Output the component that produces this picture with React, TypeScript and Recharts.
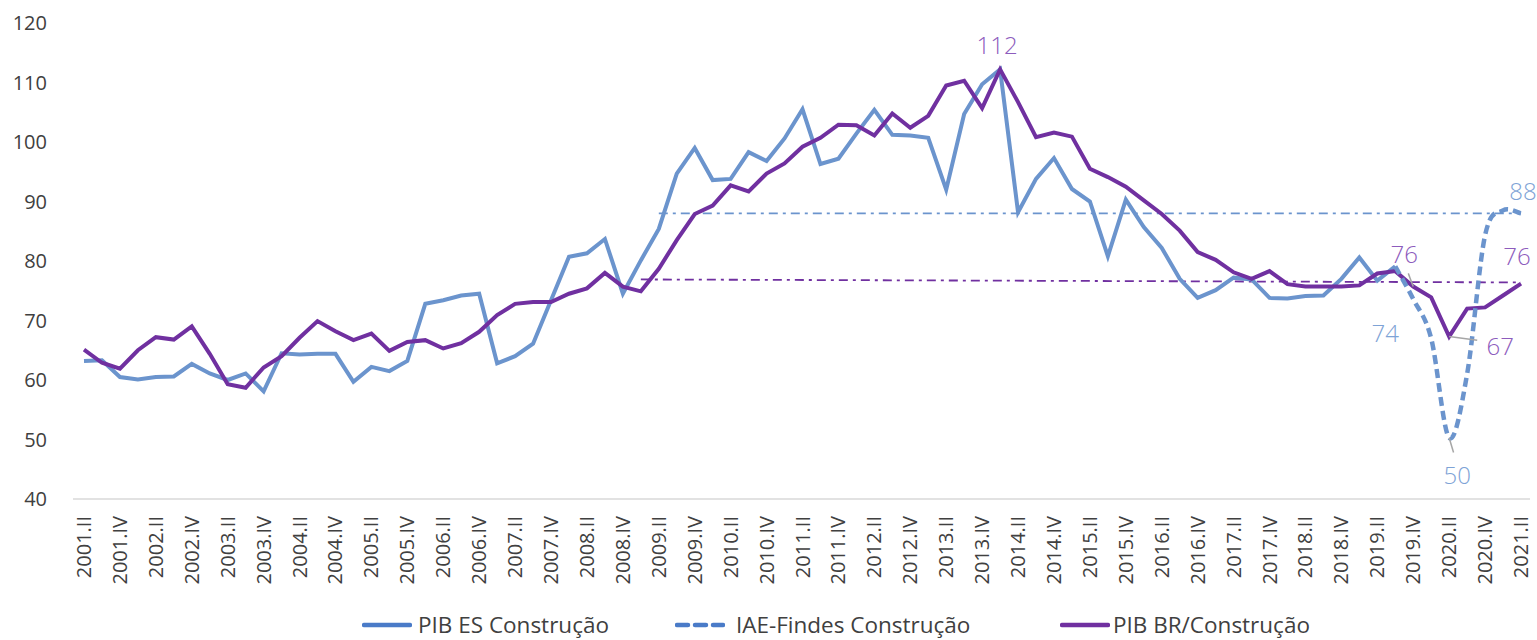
import { LineChart, Line, XAxis, YAxis, Legend, ReferenceLine, LabelList } from "recharts";

const quarters = [
   "2001.II", "2001.III", "2001.IV",
   "2002.I", "2002.II", "2002.III", "2002.IV",
   "2003.I", "2003.II", "2003.III", "2003.IV",
   "2004.I", "2004.II", "2004.III", "2004.IV",
   "2005.I", "2005.II", "2005.III", "2005.IV",
   "2006.I", "2006.II", "2006.III", "2006.IV",
   "2007.I", "2007.II", "2007.III", "2007.IV",
   "2008.I", "2008.II", "2008.III", "2008.IV",
   "2009.I", "2009.II", "2009.III", "2009.IV",
   "2010.I", "2010.II", "2010.III", "2010.IV",
   "2011.I", "2011.II", "2011.III", "2011.IV",
   "2012.I", "2012.II", "2012.III", "2012.IV",
   "2013.I", "2013.II", "2013.III", "2013.IV",
   "2014.I", "2014.II", "2014.III", "2014.IV",
   "2015.I", "2015.II", "2015.III", "2015.IV",
   "2016.I", "2016.II", "2016.III", "2016.IV",
   "2017.I", "2017.II", "2017.III", "2017.IV",
   "2018.I", "2018.II", "2018.III", "2018.IV",
   "2019.I", "2019.II", "2019.III", "2019.IV",
   "2020.I", "2020.II", "2020.III", "2020.IV",
   "2021.I", "2021.II",
];

// PIB ES Construção (solid blue), ends 2019.III
const pibES = [
   63.2, 63.3, 60.5, 60.1, 60.5, 60.6, 62.7, 61.1, 60.0, 61.1,
   58.1, 64.5, 64.3, 64.4, 64.4, 59.7, 62.2, 61.5, 63.2, 72.8,
   73.4, 74.2, 74.5, 62.8, 64.0, 66.1, 73.4, 80.7, 81.3, 83.7,
   74.5, 80.1, 85.4, 94.7, 99.0, 93.6, 93.8, 98.3, 96.8, 100.6,
   105.5, 96.3, 97.2, 101.4, 105.4, 101.2, 101.1, 100.7, 92.0, 104.7,
   109.7, 112.2, 88.2, 93.8, 97.3, 92.1, 90.0, 80.8, 90.3, 85.7,
   82.2, 77.0, 73.8, 75.1, 77.2, 76.9, 73.8, 73.7, 74.1, 74.2,
   77.0, 80.6, 76.7, 79.1,
];

// IAE-Findes Construção (dashed blue), 2019.III to 2021.II
const iaeStart = 73;
const iaeFindes = [79.1, 73.6, 67.0, 50.3, 61.0, 84.3, 88.5, 88.0];

// PIB BR/Construção (purple)
const pibBR = [
   65.1, 62.9, 61.9, 65.0, 67.2, 66.8, 69.0, 64.4, 59.3, 58.7,
   62.1, 64.0, 67.1, 69.9, 68.2, 66.7, 67.8, 64.9, 66.4, 66.7,
   65.3, 66.2, 68.1, 70.9, 72.8, 73.1, 73.1, 74.5, 75.4, 78.0,
   75.7, 74.9, 78.7, 83.5, 87.9, 89.3, 92.7, 91.7, 94.7, 96.4,
   99.2, 100.7, 102.9, 102.8, 101.1, 104.8, 102.4, 104.4, 109.5, 110.3,
   105.7, 112.2, 106.7, 100.8, 101.6, 100.9, 95.5, 94.1, 92.5, 90.2,
   87.9, 85.1, 81.5, 80.2, 78.1, 77.0, 78.3, 76.1, 75.7, 75.7,
   75.7, 75.9, 77.9, 78.3, 75.7, 73.9, 67.3, 72.0, 72.2, 74.2,
   76.2,
];

// dash-dot average lines
const avgES = { from: "2009.II", to: "2021.II", start: 88, end: 88 };
const avgBR = { from: "2009.I", to: "2021.II", start: 76.9, end: 76.4 };

const yTicks = [40, 50, 60, 70, 80, 90, 100, 110, 120];

const data = quarters.map((q, i) => ({
   q,
   es: i < pibES.length ? pibES[i] : null,
   iae: i >= iaeStart ? iaeFindes[i - iaeStart] : null,
   br: pibBR[i],
}));

const FONT = "'Segoe UI', 'Open Sans', sans-serif";
const BLUE = "#6b94cd";
const PURPLE = "#7030a0";
const BLUE_LABEL = "#7ea3d6";
const PURPLE_LABEL = "#8d5cbd";

// Excel-like smoothed line (Catmull-Rom through every point)
const excelSmooth: any = (context: any) => {
   let pts: number[][] = [];
   return {
      areaStart() {},
      areaEnd() {},
      lineStart() {
         pts = [];
      },
      point(x: number, y: number) {
         pts.push([+x, +y]);
      },
      lineEnd() {
         if (!pts.length) return;
         context.moveTo(pts[0][0], pts[0][1]);
         for (let i = 0; i < pts.length - 1; i++) {
            const p0 = pts[i - 1] || pts[i];
            const p1 = pts[i];
            const p2 = pts[i + 1];
            const p3 = pts[i + 2] || p2;
            context.bezierCurveTo(
               p1[0] + (p2[0] - p0[0]) / 6,
               p1[1] + (p2[1] - p0[1]) / 6,
               p2[0] - (p3[0] - p1[0]) / 6,
               p2[1] - (p3[1] - p1[1]) / 6,
               p2[0],
               p2[1]
            );
         }
      },
   };
};

// label offsets for selected points: [dx, dy, leader]
const brLabels: Record<number, [number, number, boolean]> = {
   51: [-3, -25, false],
   74: [-9, -33, true],
   76: [51, 9, true],
   80: [-4, -28, false],
};
const iaeLabels: Record<number, [number, number, boolean]> = {
   74: [-28, 33, false],
   76: [8, 37, true],
   80: [2, -23, false],
};

function makeLabel(spec: Record<number, [number, number, boolean]>, color: string) {
   return (props: any) => {
      const { x, y, value, index } = props;
      const s = spec[index];
      if (!s || value == null) return null;
      const [dx, dy, leader] = s;
      return (
         <g>
            {leader && (
               <line
                  x1={x}
                  y1={y}
                  x2={x + dx * 0.55}
                  y2={y + dy * 0.4}
                  stroke="#a6a6a6"
                  strokeWidth={1.5}
               />
            )}
            <text
               x={x + dx}
               y={y + dy}
               textAnchor="middle"
               dominantBaseline="central"
               fontSize={24}
               fontWeight={300}
               fontFamily={FONT}
               fill={color}
            >
               {Math.round(value)}
            </text>
         </g>
      );
   };
}

const XTick = ({ x, y, payload }: any) => (
   <text
      x={x}
      y={y}
      transform={`rotate(-90, ${x}, ${y})`}
      textAnchor="end"
      dy="0.35em"
      fontSize={20}
      fontFamily={FONT}
      fill="#404040"
   >
      {payload.value}
   </text>
);

const legendItems = [
   { label: "PIB ES Construção", color: "#4a7bc8", dash: undefined, left: 362, gap: 6 },
   { label: "IAE-Findes Construção", color: "#4a7bc8", dash: "11 7", left: 675, gap: 11 },
   { label: "PIB BR/Construção", color: PURPLE, dash: undefined, left: 1060, gap: 3 },
];

const renderLegend = () => (
   <div style={{ position: "relative", height: 41, width: 1537 }}>
      {legendItems.map((it) => (
         <div
            key={it.label}
            style={{
               position: "absolute",
               left: it.left,
               top: 12,
               display: "flex",
               alignItems: "center",
               fontFamily: FONT,
               fontSize: 22.5,
               lineHeight: "28px",
               color: "#404040",
               whiteSpace: "nowrap",
            }}
         >
            <svg width={50} height={10} style={{ marginRight: it.gap }}>
               <line
                  x1={2}
                  y1={5}
                  x2={48}
                  y2={5}
                  stroke={it.color}
                  strokeWidth={4.5}
                  strokeLinecap="round"
                  strokeDasharray={it.dash}
               />
            </svg>
            {it.label}
         </div>
      ))}
   </div>
);

export default function App() {
   return (
      <div style={{ position: "absolute", left: 0, top: 0, background: "#fff" }}>
         <LineChart width={1537} height={640} data={data} margin={{ top: 23, right: 7, bottom: 0, left: 0 }}>
            <XAxis
               dataKey="q"
               interval={1}
               height={100}
               tick={<XTick />}
               tickLine={false}
               tickSize={0}
               tickMargin={17}
               axisLine={{ stroke: "#d9d9d9", strokeWidth: 1.5 }}
               padding={{ left: 11, right: 9 }}
            />
            <YAxis
               width={73}
               domain={[40, 120]}
               ticks={yTicks}
               interval={0}
               axisLine={false}
               tickLine={false}
               tickSize={0}
               tickMargin={26}
               tick={{ fontSize: 20, fill: "#404040", fontFamily: FONT }}
            />
            <ReferenceLine
               segment={[
                  { x: avgES.from, y: avgES.start },
                  { x: avgES.to, y: avgES.end },
               ]}
               stroke={BLUE}
               strokeWidth={1.8}
               strokeDasharray="9 5 3 5"
            />
            <ReferenceLine
               segment={[
                  { x: avgBR.from, y: avgBR.start },
                  { x: avgBR.to, y: avgBR.end },
               ]}
               stroke={PURPLE}
               strokeWidth={1.8}
               strokeDasharray="9 5 3 5"
            />
            <Legend verticalAlign="bottom" height={41} content={renderLegend} wrapperStyle={{ left: 0, width: 1537 }} />
            <Line
               type="linear"
               dataKey="es"
               name="PIB ES Construção"
               stroke={BLUE}
               strokeWidth={4}
               dot={false}
               isAnimationActive={false}
            />
            <Line
               type="linear"
               dataKey="br"
               name="PIB BR/Construção"
               stroke={PURPLE}
               strokeWidth={4}
               dot={false}
               isAnimationActive={false}
            >
               <LabelList dataKey="br" content={makeLabel(brLabels, PURPLE_LABEL)} />
            </Line>
            <Line
               type={excelSmooth}
               dataKey="iae"
               name="IAE-Findes Construção"
               stroke={BLUE}
               strokeWidth={4.5}
               strokeDasharray="9 5"
               dot={false}
               connectNulls={false}
               isAnimationActive={false}
            >
               <LabelList dataKey="iae" content={makeLabel(iaeLabels, BLUE_LABEL)} />
            </Line>
         </LineChart>
      </div>
   );
}
